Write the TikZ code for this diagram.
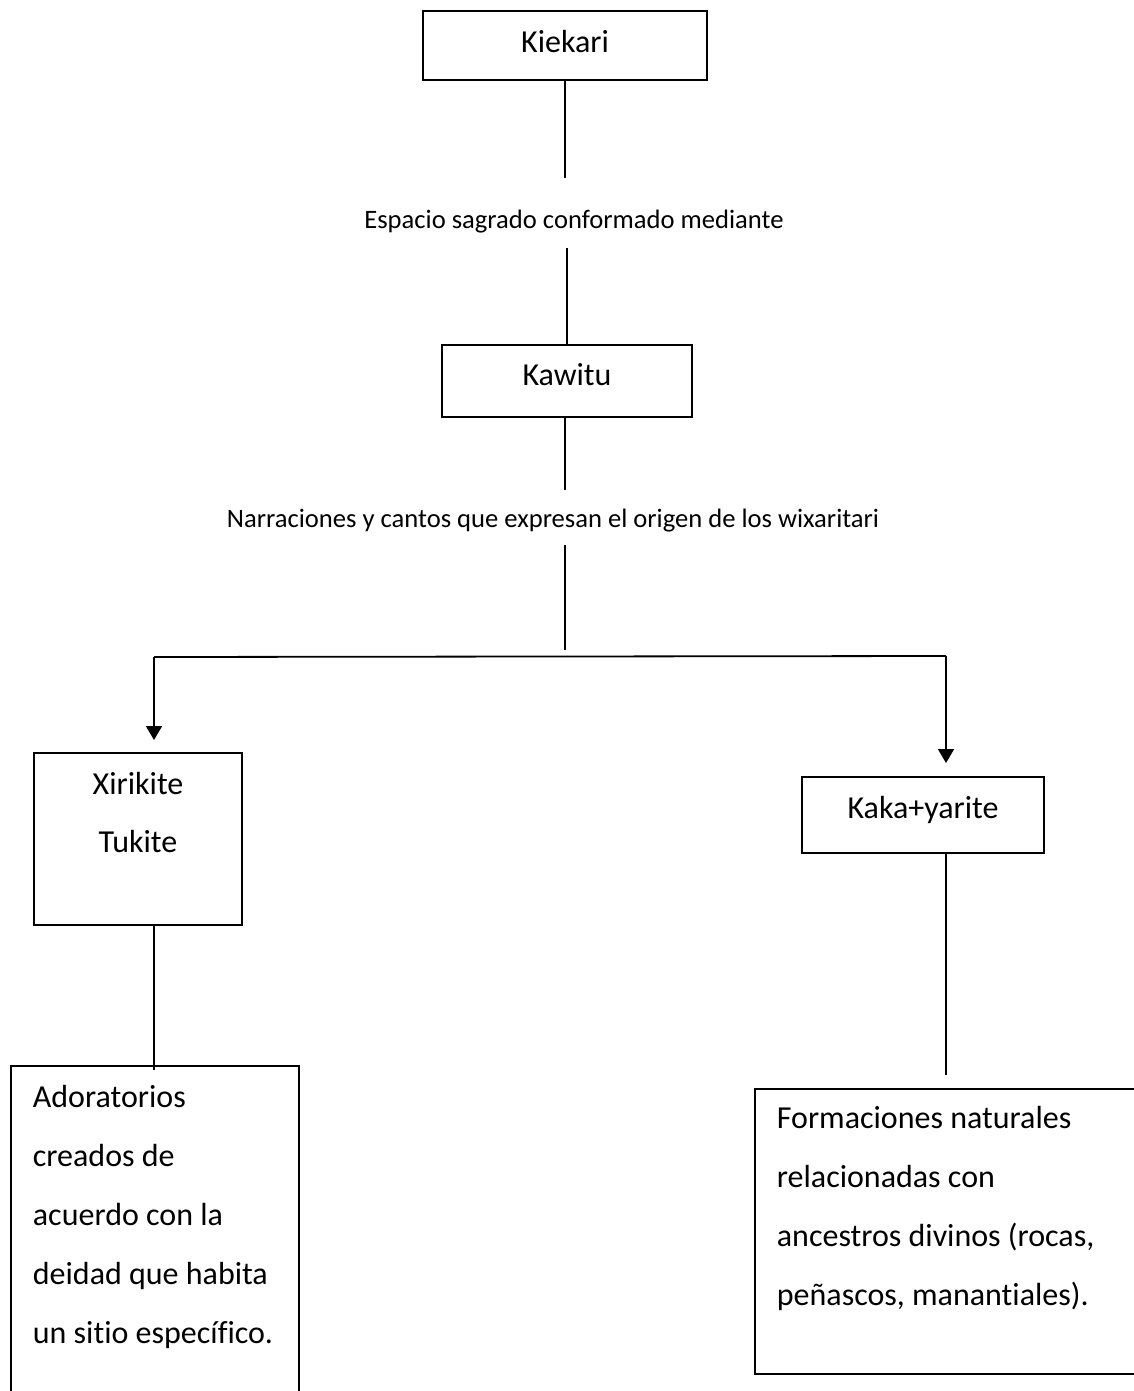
\documentclass[tikz,border=0pt]{standalone}
\usepackage{fontspec}
\setmainfont{Carlito}[Ligatures=NoCommon]
\usetikzlibrary{arrows.meta}

\tikzset{
  box/.style={draw, line width=0.9pt, inner sep=0pt, align=flush center,
    font=\fontsize{16pt}{29pt}\selectfont},
  bigbox/.style={draw, line width=0.9pt, inner xsep=11pt, inner ysep=0pt,
    align=flush left, font=\fontsize{16pt}{29.5pt}\selectfont},
  linktext/.style={inner sep=0pt, font=\fontsize{13.3pt}{16pt}\selectfont},
  link/.style={line width=0.9pt},
  drop/.style={line width=0.9pt, -{Triangle[length=7pt,width=8pt]}}
}

\begin{document}
\begin{tikzpicture}[x=0.5pt, y=-0.5pt]
    \useasboundingbox (0,0) rectangle (1134,1391);

    % top level
    \node[box, anchor=north, minimum width=142pt, text height=21pt, text depth=13.5pt]
      (kiekari) at (565,10) {Kiekari};
    \node[linktext, anchor=base, text height=25pt, text depth=10pt]
      (espacio) at (574,228) {Espacio sagrado conformado mediante};
    \draw[link] (kiekari.south) -- (espacio.north -| kiekari.south);

    % middle level
    \node[box, anchor=north, minimum width=125pt, text height=20.5pt, text depth=15.5pt]
      (kawitu) at (567,344) {Kawitu};
    \draw[link] (espacio.south -| kawitu.north) -- (kawitu.north);
    \node[linktext, anchor=base, text height=18.5pt, text depth=9pt]
      (narraciones) at (553,527) {Narraciones y cantos que expresan el origen de los wixaritari};
    \coordinate (split) at (565,650);
    \draw[link] (kawitu.south -| split) -- (narraciones.north -| split);
    \draw[link] (narraciones.south -| split) -- (split);

    % branch
    \coordinate (left) at (154,657);
    \coordinate (right) at (946,656);
    \draw[link] (left) -- (right);

    % left branch
    \node[box, anchor=north, text width=104pt, text height=21pt, text depth=65pt]
      (xirikite) at (138,752) {Xirikite\\Tukite};
    \draw[drop, shorten >=6pt] (left) -- (left |- xirikite.north);
    \node[bigbox, anchor=north west, text width=122pt, text height=21pt, text depth=177pt]
      (adoratorios) at (10,1065) {Adoratorios\\creados de\\acuerdo con la\\deidad que habita\\un sitio específico.};
    \draw[link] (xirikite.south -| left) -- ([yshift=-2.5pt]adoratorios.north -| left);

    % right branch
    \node[box, anchor=north, minimum width=121pt, text height=21pt, text depth=17pt]
      (kakayarite) at (923,776) {Kaka+yarite};
    \draw[drop, shorten >=6.5pt] (right) -- (right |- kakayarite.north);
    \node[bigbox, anchor=north west, text width=176pt, text height=20pt, text depth=122.5pt]
      (formaciones) at (754,1088) {Formaciones naturales\\relacionadas con\\ancestros divinos (rocas,\\peñascos, manantiales).};
    \draw[link, shorten >=6.5pt] (kakayarite.south -| right) -- (formaciones.north -| right);

\end{tikzpicture}
\end{document}
